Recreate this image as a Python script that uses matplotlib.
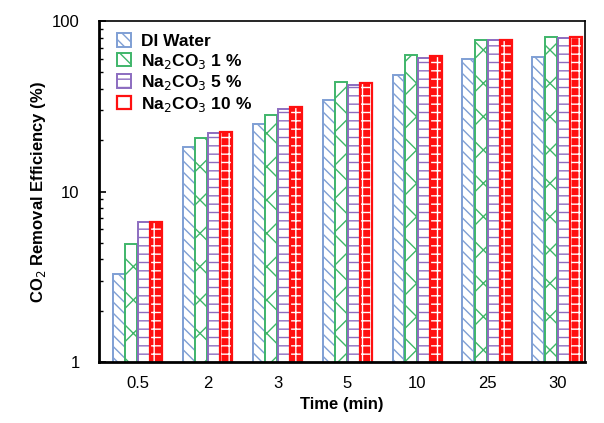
import matplotlib.pyplot as plt
import numpy as np

plt.rcParams['font.family'] = ['Liberation Sans', 'DejaVu Sans']
plt.rcParams['hatch.linewidth'] = 1.0

times = ['0.5', '2', '3', '5', '10', '25', '30']
di_water = [3.27, 18.2, 24.9, 34.4, 48.3, 60.2, 61.6]
na_1 = [4.9, 20.6, 28.2, 44.2, 63.2, 77.4, 80.6]
na_5 = [6.6, 22.0, 30.6, 42.0, 60.5, 77.0, 79.2]
na_10 = [6.6, 22.5, 31.4, 43.4, 62.4, 77.4, 80.6]

labels = ['DI Water', 'Na$_2$CO$_3$ 1 %', 'Na$_2$CO$_3$ 5 %', 'Na$_2$CO$_3$ 10 %']
edge_cols = ['#7f9fd4', '#3fb56a', '#8c6cc0', '#ff1010']
hatches = ['\\\\\\', 'x', '--', None]

fig = plt.figure(figsize=(6.04, 4.23), dpi=100)
ax = fig.add_axes([0.164, 0.144, 0.805, 0.806])
ax.set_yscale('log')

x = np.arange(len(times))
w = 0.18
series = [di_water, na_1, na_5, na_10]
handles = []
for i, vals in enumerate(series):
    pos = x + (i - 1.5) * w
    if hatches[i] is None:
        # red bars with white checks
        ax.bar(pos, vals, w * 0.95, color=edge_cols[i], edgecolor='white',
               hatch='++', linewidth=0)
        h = ax.bar(pos, vals, w * 0.95, facecolor='none',
                   edgecolor=edge_cols[i], linewidth=1.6, label=labels[i])
    else:
        h = ax.bar(pos, vals, w * 0.95, facecolor='white',
                   edgecolor=edge_cols[i], hatch=hatches[i], linewidth=1.4,
                   label=labels[i])
    handles.append(h)

ax.set_ylim(1, 100)
ax.set_xlim(-0.55, 6.4)
ax.set_xticks(x)
ax.set_xticklabels(times)
ax.set_yticks([1, 10, 100])
ax.set_yticklabels(['1', '10', '100'])
ax.tick_params(axis='x', length=0, labelsize=12, pad=10)
ax.tick_params(axis='y', which='major', direction='in', length=5, width=1.2, labelsize=12, pad=14)
ax.tick_params(axis='y', which='minor', direction='in', length=3, width=1)

for s in ['left', 'bottom']:
    ax.spines[s].set_linewidth(2)
for s in ['top', 'right']:
    ax.spines[s].set_linewidth(1.2)

ax.set_xlabel('Time (min)', fontsize=12, fontweight='bold')
ax.set_ylabel('CO$_2$ Removal Efficiency (%)', fontsize=12, fontweight='bold', labelpad=3)

leg = ax.legend(handles=handles, loc='upper left', bbox_to_anchor=(0.015, 0.995),
                frameon=False, handlelength=0.8, handleheight=0.8, handletextpad=0.6,
                labelspacing=0.15, prop={'weight': 'bold', 'size': 12.5}, borderaxespad=0.2)

fig.savefig('out.png', dpi=100)
